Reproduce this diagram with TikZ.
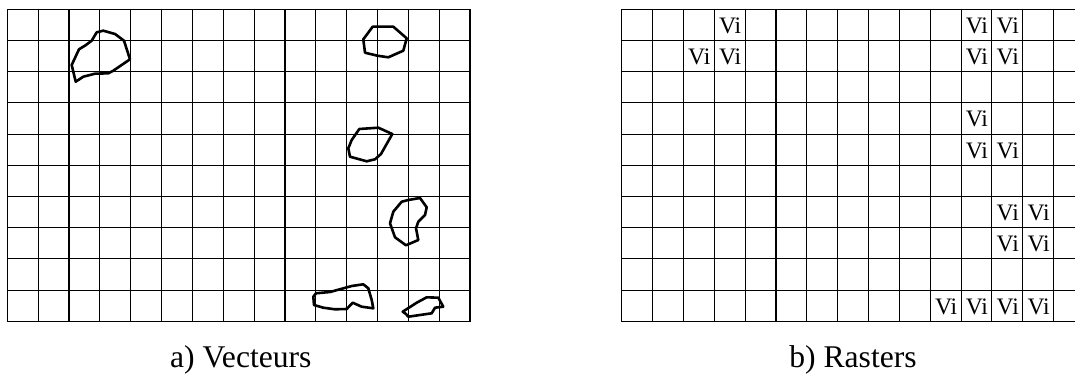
\documentclass[tikz,border=0pt]{standalone}
\usepackage{fontspec}
\setmainfont{Liberation Serif}
\usetikzlibrary{positioning}
\tikzset{
  gridline/.style = {draw=black, line width=0.55pt},
  gridframe/.style = {draw=black, line width=0.7pt},
  blob/.style     = {draw=black, line width=1.3pt, line join=round},
  vicell/.style   = {font=\fontsize{11.8}{13}\selectfont, inner sep=0pt},
  caption/.style  = {font=\fontsize{15.8}{18}\selectfont, inner sep=0pt, anchor=base},
}

\begin{document}
\begin{tikzpicture}[x=0.5pt, y=-0.5pt]
    \useasboundingbox (0,0) rectangle (1075,374);
    \clip (0,0) rectangle (1075,374);

    % both grids, 15 x 10 cells
    \foreach \xo in {7.3, 621.7}
      {\foreach \i in {0,...,15}
         \draw[gridline] (\xo+\i*30.85, 9.3) -- (\xo+\i*30.85, 321.3);
       \foreach \j in {0,...,10}
         \draw[gridline] (\xo, 9.3+\j*31.2) -- (\xo+462.75, 9.3+\j*31.2);
       \draw[gridframe] (\xo, 9.3) rectangle (\xo+462.75, 321.3);}

    % vecteurs
    \draw[blob] (96.7,32.3) -- (103.3,30.7) -- (115,34) -- (124,40.7) -- (130,59.3)
      -- (113.3,70.7) -- (108.3,73.3) -- (95,73.7) -- (83.3,76.7) -- (75.7,81.7)
      -- (71.7,65) -- (79,49.3) -- (86,45) -- (91.7,40.7) -- cycle;
    \draw[blob] (372.7,26.7) -- (393.3,26.7) -- (406.7,38.3) -- (403.3,50.7)
      -- (388.3,57.3) -- (377.3,55.7) -- (365,52.7) -- (363.3,39.3) -- cycle;
    \draw[blob] (359.3,129) -- (378.3,127.7) -- (392.3,134) -- (381,154)
      -- (375,159.3) -- (366.7,161.3) -- (350,156.7) -- (348.3,148.3)
      -- (351.7,140) -- cycle;
    \draw[blob] (408.3,200) -- (420,198) -- (426.7,207.3) -- (425,215)
      -- (418.3,221.7) -- (416,228.3) -- (418.3,240) -- (406,245.3)
      -- (395,237.3) -- (390,223.3) -- (393.3,211.7) -- (401.7,201.7) -- cycle;
    \draw[blob] (316,293.3) -- (330,292) -- (351.7,286) -- (363.3,284.3)
      -- (368.3,288.3) -- (371.7,300) -- (373.3,308.3) -- (361.7,306.7)
      -- (352.7,302.7) -- (346.7,309) -- (335,309.3) -- (323.3,307.7)
      -- (314,305) -- (313.3,296.7) -- cycle;
    \draw[blob] (402.7,311.7) -- (416.7,302.7) -- (426.7,297.3) -- (438.3,297.7)
      -- (443.3,306.7) -- (435,307.7) -- (431.7,313.3) -- (408.3,316.7)
      -- (406,314) -- cycle;

    % rasters
    \foreach \c/\r in {3/0, 2/1, 3/1, 11/0, 12/0, 11/1, 12/1, 11/3, 11/4, 12/4,
                       12/6, 13/6, 12/7, 13/7, 10/9, 11/9, 12/9, 13/9}
      \node[vicell] (vi-\c-\r) at (621.7+\c*30.85+15.9, 9.3+\r*31.2+16.4) {Vi};

    % captions
    \node[caption] (capa) at (240.8,367) {a) Vecteurs};
    \node[caption] (capb) at (853,367) {b) Rasters};
  \end{tikzpicture}
\end{document}
